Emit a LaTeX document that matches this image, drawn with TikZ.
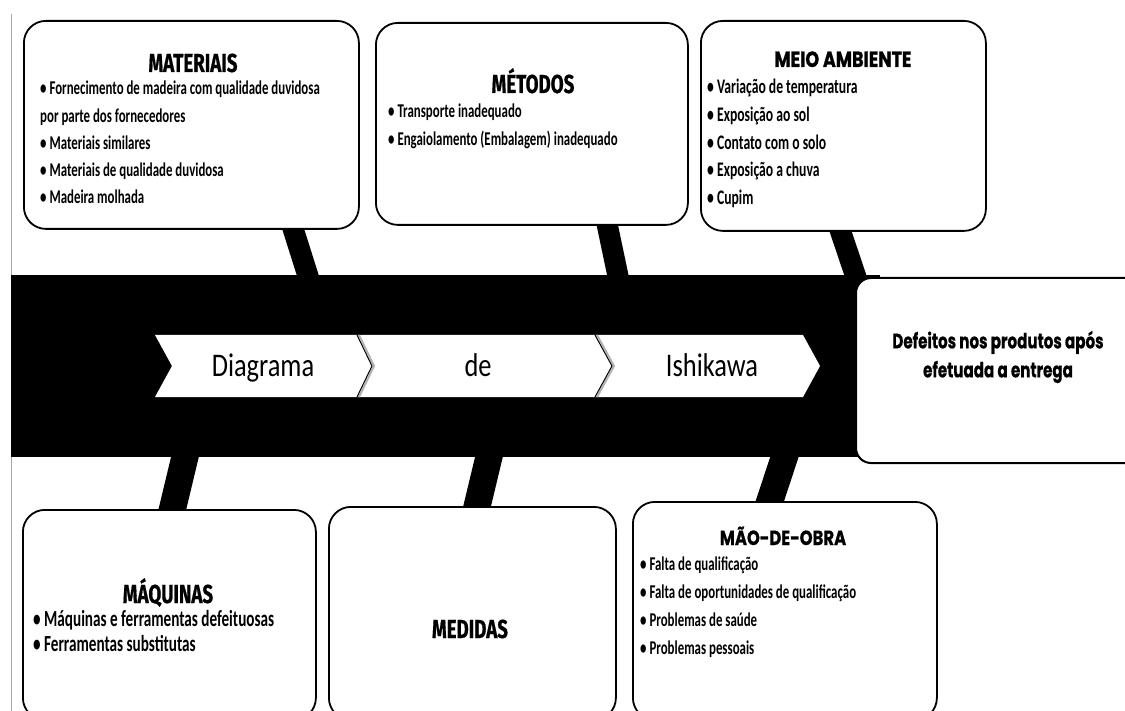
\documentclass[tikz,border=0pt]{standalone}
\usepackage{fontspec}
\setmainfont{Carlito}
\newfontfamily\bodyf[FakeStretch=0.66]{Carlito}
\newfontfamily\titlef[FakeStretch=0.72,FakeBold=0.6]{Fira Sans}
\newfontfamily\wtitlef[FakeStretch=0.8,FakeBold=0.8]{Poppins}
\newfontfamily\efff[FakeStretch=0.72,FakeBold=0.5]{Poppins}
\newfontfamily\chevf[FakeStretch=0.8]{Carlito}
\begin{document}
\begin{tikzpicture}[x=1pt,y=-1pt,
  bone/.style={line width=21pt, draw=black},
  lbone/.style={line width=27pt, draw=black},
  causebox/.style={draw=black, line width=1.8pt, fill=white, rounded corners=22pt, anchor=north west, inner sep=0},
  ttl/.style={font=\titlef\bfseries\fontsize{26}{28}\selectfont, inner sep=0, anchor=base},
  wttl/.style={font=\wtitlef\bfseries\fontsize{22}{24}\selectfont, inner sep=0, anchor=base},
  itm/.style={font=\bodyf\bfseries\fontsize{19.5}{27.2}\selectfont, anchor=north west, align=left, inner sep=0},
  chev/.style={fill=white, draw=none},
  chevtxt/.style={font=\chevf\fontsize{33}{35}\selectfont, inner sep=0, anchor=base},
]
\clip (0,0) rectangle (1125,711);
\fill[white] (0,0) rectangle (1125,711);
% left gray rule
\draw[gray!70, line width=1.2pt] (11.5,14) -- (11.5,711);

% bone endpoints
\coordinate (b1a) at (284,200); \coordinate (b1b) at (314,295);
\coordinate (b2a) at (602,200); \coordinate (b2b) at (622,295);
\coordinate (b3a) at (830,200); \coordinate (b3b) at (862,295);
\coordinate (b4a) at (189,440); \coordinate (b4b) at (165,540);
\coordinate (b5a) at (493,440); \coordinate (b5b) at (469,540);
\coordinate (b6a) at (790,440); \coordinate (b6b) at (757,540);
\draw[bone] (b1a) -- (b1b);
\draw[bone] (b2a) -- (b2b);
\draw[bone] (b3a) -- (b3b);
\draw[lbone] (b4a) -- (b4b);
\draw[lbone] (b5a) -- (b5b);
\draw[lbone] (b6a) -- (b6b);

% spine
\fill[black] (11,275) rectangle (880,457);

% chevrons
\fill[chev] (155,335) -- (357,335) -- (372,366) -- (357,397) -- (155,397) -- (172,366) -- cycle;
\fill[chev] (357,335) -- (595,335) -- (612,366) -- (595,397) -- (357,397) -- (372,366) -- cycle;
\fill[chev] (595,335) -- (803,335) -- (820,366) -- (803,397) -- (595,397) -- (612,366) -- cycle;
\draw[gray!60, line width=2pt] (359,335) -- (374,366) -- (359,397);
\draw[gray!60, line width=2pt] (597,335) -- (614,366) -- (597,397);
\draw[black, line width=1pt] (357,335) -- (372,366) -- (357,397);
\draw[black, line width=1pt] (595,335) -- (612,366) -- (595,397);
\node[chevtxt] (t1) at (263,377) {Diagrama};
\node[chevtxt] (t2) at (478,377) {de};
\node[chevtxt] (t3) at (712,377) {Ishikawa};

% effect box
\node[causebox, rounded corners=15pt, line width=2pt, minimum width=290pt, minimum height=185pt] (eff) at (855,277) {};
\node[font=\efff\bfseries\fontsize{21}{29}\selectfont, align=center, inner sep=0, anchor=center] (efft) at (998,357) {Defeitos nos produtos após\\efetuada a entrega};

% cause boxes
\node[causebox, minimum width=335pt, minimum height=208pt] (mat) at (23,20) {};
\node[causebox, minimum width=312pt, minimum height=202pt] (met) at (375,22) {};
\node[causebox, minimum width=285pt, minimum height=210pt] (mei) at (700,20) {};
\node[causebox, minimum width=293pt, minimum height=210pt] (maq) at (22,509) {};
\node[causebox, minimum width=287pt, minimum height=213pt] (med) at (328,506) {};
\node[causebox, minimum width=304pt, minimum height=218pt] (mao) at (632,501) {};

% titles
\node[ttl] (matT) at (193,72) {MATERIAIS};
\node[ttl] (metT) at (533,93) {MÉTODOS};
\node[wttl] (meiT) at (843,67) {MEIO AMBIENTE};
\node[ttl] (maqT) at (168,603) {MÁQUINAS};
\node[ttl] (medT) at (470,638) {MEDIDAS};
\node[wttl, font=\wtitlef\bfseries\fontsize{20.5}{24}\selectfont] (maoT) at (783,545) {MÃO-DE-OBRA};

% items
\node[itm] (matI) at (40,81) {• Fornecimento de madeira com qualidade duvidosa\\por parte dos fornecedores\\• Materiais similares\\• Materiais de qualidade duvidosa\\• Madeira molhada};
\node[itm] (metI) at (388,104) {• Transporte inadequado\\• Engaiolamento (Embalagem) inadequado};
\node[itm, font=\bodyf\bfseries\fontsize{20.7}{27.7}\selectfont] (meiI) at (707,79) {• Variação de temperatura\\• Exposição ao sol\\• Contato com o solo\\• Exposição a chuva\\• Cupim};
\node[itm, font=\bodyf\bfseries\fontsize{23}{25}\selectfont] (maqI) at (33,610) {• Máquinas e ferramentas defeituosas\\• Ferramentas substitutas};
\node[itm, font=\bodyf\bfseries\fontsize{19.5}{27.7}\selectfont] (maoI) at (640,557) {• Falta de qualificação\\• Falta de oportunidades de qualificação\\• Problemas de saúde\\• Problemas pessoais};
\end{tikzpicture}
\end{document}
